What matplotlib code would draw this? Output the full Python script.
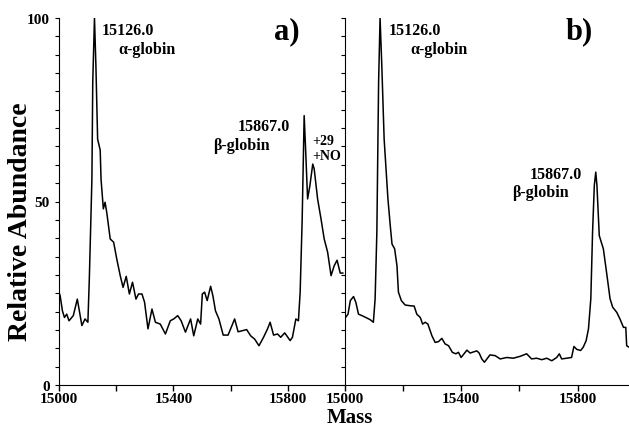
import numpy as np
import matplotlib
matplotlib.use("Agg")
import matplotlib.pyplot as plt
from matplotlib.ticker import MultipleLocator

plt.rcParams['font.family'] = ['Liberation Serif', 'DejaVu Serif']
plt.rcParams['font.weight'] = 'bold'

# Panel a) spectrum: mass (Da), relative abundance (%)
mass_a = [15000, 15004, 15012, 15019, 15027, 15035, 15050, 15064, 15070, 15080,
          15091, 15101, 15106, 15112, 15115, 15118, 15124, 15129, 15135, 15144,
          15147, 15155, 15161, 15167, 15179, 15191, 15202, 15214, 15224, 15235,
          15246, 15257, 15269, 15278, 15290, 15299, 15311, 15325, 15337, 15354,
          15372, 15389, 15401, 15415, 15427, 15442, 15460, 15471, 15485, 15495,
          15501, 15509, 15518, 15530, 15538, 15547, 15559, 15574, 15591, 15602,
          15614, 15626, 15641, 15656, 15670, 15684, 15699, 15715, 15729, 15738,
          15750, 15764, 15775, 15789, 15808, 15816, 15828, 15837, 15843, 15850,
          15857, 15862, 15869, 15877, 15887, 15892, 15904, 15916, 15927, 15939,
          15951, 15962, 15972, 15983, 15992]
abund_a = [25.3, 24.3, 20.2, 18.4, 19.3, 17.5, 18.9, 23.4, 20.7, 16.2,
           18.0, 17.1, 28.9, 47.0, 56.0, 82.5, 100.0, 87.0, 67.0, 64.0,
           56.0, 48.0, 49.8, 47.0, 39.8, 38.9, 34.3, 29.8, 26.6, 29.6,
           24.8, 28.0, 23.4, 24.8, 24.8, 22.6, 15.3, 20.7, 17.1, 16.6,
           13.9, 17.5, 18.0, 18.9, 17.5, 14.4, 18.0, 13.4, 18.0, 16.6,
           24.8, 25.3, 23.0, 26.9, 24.3, 20.2, 18.0, 13.6, 13.6, 15.7,
           18.0, 14.5, 14.8, 15.1, 13.4, 12.5, 10.7, 13.0, 15.3, 17.1,
           13.6, 13.9, 13.0, 14.2, 12.1, 13.0, 18.0, 17.5, 25.3, 45.0,
           73.4, 64.3, 50.7, 54.3, 60.2, 58.9, 50.7, 45.2, 39.8, 36.2,
           29.8, 32.5, 34.0, 30.5, 30.5]

# Panel b) spectrum
mass_b = [15000, 15012, 15020, 15031, 15039, 15048, 15060, 15073, 15088, 15099,
          15105, 15111, 15117, 15122, 15128, 15136, 15149, 15157, 15163, 15172,
          15180, 15185, 15195, 15208, 15225, 15239, 15248, 15260, 15268, 15277,
          15286, 15300, 15311, 15322, 15334, 15345, 15357, 15370, 15382, 15391,
          15400, 15412, 15420, 15431, 15442, 15454, 15462, 15471, 15480, 15499,
          15517, 15534, 15557, 15579, 15602, 15625, 15642, 15659, 15677, 15694,
          15711, 15728, 15737, 15745, 15762, 15779, 15787, 15797, 15810, 15819,
          15829, 15837, 15845, 15851, 15857, 15862, 15866, 15874, 15888, 15899,
          15911, 15920, 15934, 15945, 15957, 15965, 15968, 15976]
abund_b = [18.0, 19.3, 23.0, 24.1, 22.5, 19.3, 18.9, 18.4, 17.8, 17.1,
           23.4, 41.6, 82.5, 100.0, 87.0, 67.0, 50.7, 43.4, 38.4, 37.1,
           32.5, 25.3, 23.0, 21.8, 21.6, 21.5, 19.3, 18.4, 16.6, 17.1,
           16.6, 13.4, 11.6, 11.8, 12.7, 11.2, 10.7, 8.9, 8.5, 8.9,
           7.5, 8.7, 9.5, 8.7, 9.0, 9.3, 8.7, 7.1, 6.2, 8.2,
           8.0, 7.1, 7.5, 7.3, 7.8, 8.5, 7.1, 7.3, 6.9, 7.3,
           6.6, 7.5, 8.5, 7.1, 7.3, 7.5, 10.5, 9.7, 9.4, 10.3,
           12.1, 15.3, 23.5, 41.6, 54.4, 58.0, 54.4, 40.7, 37.1, 30.7,
           23.5, 21.2, 19.8, 18.0, 15.7, 15.7, 10.7, 10.3]

W, H = 629, 427
fig = plt.figure(figsize=(W / 100, H / 100), dpi=100)
axL = 59 / W
axM = 344.5 / W
axB = 41 / H
axT = 408 / H
ax1 = fig.add_axes([axL, axB, axM - axL, axT - axB])
ax2 = fig.add_axes([axM, axB, 1.0 - axM, axT - axB])

for ax, m, a, xmax in [(ax1, mass_a, abund_a, 15998), (ax2, mass_b, abund_b, 15976)]:
    ax.plot(m, a, color='black', lw=1.1)
    ax.set_xlim(15000, xmax)
    ax.set_ylim(0, 100)
    ax.spines['top'].set_visible(False)
    ax.spines['right'].set_visible(False)
    ax.set_xticks([15000, 15200, 15400, 15600, 15800])
    ax.set_xticklabels(['15000', '', '15400', '', '15800'])
    ax.yaxis.set_minor_locator(MultipleLocator(5))
    ax.tick_params(axis='x', direction='out', length=4, width=1, labelsize=11, pad=1)
    ax.tick_params(axis='y', which='both', direction='out', length=3, width=0.8, labelsize=11)
    for lab in ax.get_xticklabels() + ax.get_yticklabels():
        lab.set_fontweight('bold')
    ax.patch.set_alpha(0)

ax1.set_yticks([0, 50, 100])
ax1.set_yticklabels(['0', '50', '100'])
for lab in ax1.get_yticklabels():
    lab.set_fontweight('bold')
ax2.set_yticks([])
ax2.yaxis.set_minor_locator(MultipleLocator(5))
ax2.tick_params(axis='y', which='minor', direction='out', length=3)

fig.text(21 / W, 1 - 222 / H, 'Relative Abundance', rotation=90, ha='center', va='center',
         fontsize=20, fontweight='bold')
fig.text(350 / W, 1 - 418 / H, 'Mass', ha='center', va='center', fontsize=15, fontweight='bold')

tk = dict(fontsize=11.5, fontweight='bold', va='center')
ax1.text(15150, 96.6, '15126.0', ha='left', **tk)
ax1.text(15208, 91.6, 'α-globin', ha='left', **tk)
ax1.text(15808, 70.7, '15867.0', ha='right', **tk)
ax1.text(15538, 65.5, 'β-globin', ha='left', **tk)
ax1.text(15885, 66.6, '+29', ha='left', fontsize=10, fontweight='bold', va='center')
ax1.text(15885, 62.4, '+NO', ha='left', fontsize=10, fontweight='bold', va='center')
ax1.text(15752, 96.5, 'a)', ha='left', fontsize=22, fontweight='bold', va='center')

ax2.text(15151, 96.6, '15126.0', ha='left', **tk)
ax2.text(15225, 91.6, 'α-globin', ha='left', **tk)
ax2.text(15814, 57.5, '15867.0', ha='right', **tk)
ax2.text(15574, 52.5, 'β-globin', ha='left', **tk)
ax2.text(15757, 96.5, 'b)', ha='left', fontsize=22, fontweight='bold', va='center')

fig.savefig('out.png', dpi=100)
